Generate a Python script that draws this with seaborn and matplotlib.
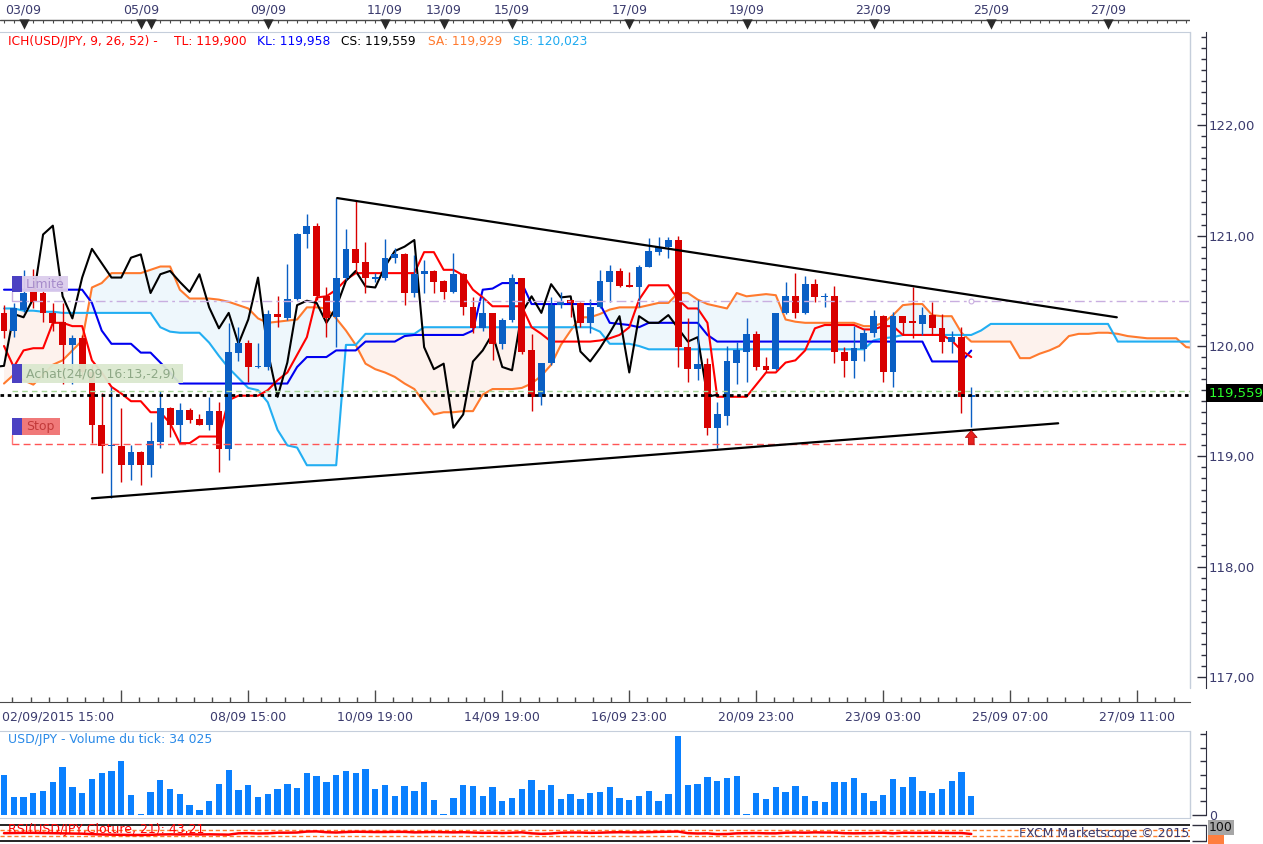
import numpy as np
import matplotlib
matplotlib.use("Agg")
import matplotlib.pyplot as plt
import seaborn as sns
from matplotlib.patches import Rectangle
from matplotlib.lines import Line2D
from matplotlib.ticker import FixedLocator, MultipleLocator, FuncFormatter, NullFormatter

sns.set_style("white")
plt.rcParams["font.family"] = ["DejaVu Sans"]

# ---------------- data (USD/JPY, 4h candles) ----------------
opens = [120.30, 120.14, 120.33, 120.52, 120.48, 120.30, 120.22, 120.01, 120.07, 119.76,
         119.28, 119.09, 119.09, 118.92, 119.04, 118.92, 119.13, 119.44, 119.28, 119.42,
         119.34, 119.28, 119.41, 119.07, 119.94, 120.03, 119.81, 119.81, 120.29, 120.25,
         120.43, 121.01, 121.09, 120.45, 120.26, 120.62, 120.88, 120.76, 120.61, 120.62,
         120.80, 120.83, 120.48, 120.65, 120.68, 120.59, 120.49, 120.65, 120.35, 120.16,
         120.30, 120.02, 120.24, 120.62, 119.96, 119.54, 119.85, 120.37, 120.42, 120.39,
         120.21, 120.35, 120.58, 120.68, 120.55, 120.53, 120.72, 120.85, 120.90, 120.96,
         119.99, 119.79, 119.84, 119.26, 119.37, 119.85, 119.95, 120.11, 119.82, 119.79,
         120.30, 120.45, 120.30, 120.56, 120.44, 120.45, 119.95, 119.86, 119.97, 120.12,
         120.27, 119.76, 120.27, 120.22, 120.20, 120.28, 120.16, 120.04, 120.08, 119.54]
highs = [120.37, 120.39, 120.69, 120.70, 120.51, 120.39, 120.39, 120.10, 120.10, 119.83,
         119.57, 119.63, 119.44, 119.10, 119.05, 119.31, 119.59, 119.45, 119.48, 119.44,
         119.38, 119.54, 119.49, 120.21, 120.17, 120.05, 120.03, 120.33, 120.45, 120.74,
         121.02, 121.20, 121.11, 120.53, 121.34, 121.06, 121.32, 120.94, 120.66, 120.97,
         120.89, 120.84, 120.82, 120.78, 120.69, 120.60, 120.84, 120.66, 120.44, 120.44,
         120.30, 120.25, 120.65, 120.62, 120.11, 119.85, 120.44, 120.49, 120.42, 120.40,
         120.43, 120.69, 120.73, 120.71, 120.67, 120.73, 120.98, 120.99, 120.99, 121.00,
         120.25, 120.42, 119.89, 119.49, 120.00, 120.04, 120.25, 120.14, 119.90, 120.30,
         120.58, 120.66, 120.63, 120.61, 120.48, 120.54, 119.99, 120.18, 120.15, 120.33,
         120.28, 120.31, 120.27, 120.53, 120.35, 120.40, 120.29, 120.14, 120.17, 119.63]
lows = [120.07, 120.08, 120.31, 120.34, 120.22, 120.14, 119.66, 119.66, 119.70, 119.12,
        118.85, 118.62, 118.77, 118.79, 118.74, 118.81, 119.08, 119.18, 119.13, 119.30,
        119.28, 119.24, 118.86, 118.97, 119.86, 119.67, 119.80, 119.78, 120.17, 120.24,
        120.42, 120.89, 120.42, 120.08, 119.99, 120.60, 120.66, 120.48, 120.58, 120.60,
        120.75, 120.37, 120.44, 120.48, 120.48, 120.43, 120.48, 120.28, 120.12, 120.14,
        119.87, 119.97, 120.22, 119.93, 119.41, 119.47, 119.83, 120.34, 120.26, 120.17,
        120.12, 120.34, 120.40, 120.53, 120.53, 120.35, 120.72, 120.82, 120.80, 119.81,
        119.67, 119.69, 119.19, 119.08, 119.28, 119.66, 119.67, 119.78, 119.76, 119.78,
        120.29, 120.25, 120.29, 120.40, 120.35, 119.85, 119.72, 119.71, 119.86, 120.08,
        119.67, 119.63, 120.10, 120.07, 120.10, 120.10, 119.94, 119.94, 119.39, 119.27]
closes = [120.14, 120.34, 120.48, 120.40, 120.30, 120.21, 120.01, 120.07, 119.76, 119.28,
          119.09, 119.10, 118.92, 119.04, 118.92, 119.14, 119.44, 119.28, 119.42, 119.33,
          119.28, 119.41, 119.07, 119.95, 120.03, 119.81, 119.82, 120.29, 120.26, 120.43,
          121.01, 121.09, 120.45, 120.25, 120.62, 120.88, 120.75, 120.62, 120.62, 120.80,
          120.83, 120.48, 120.65, 120.68, 120.58, 120.49, 120.65, 120.35, 120.16, 120.30,
          120.02, 120.24, 120.62, 119.95, 119.54, 119.85, 120.37, 120.41, 120.39, 120.21,
          120.35, 120.59, 120.68, 120.54, 120.53, 120.72, 120.86, 120.90, 120.96, 119.99,
          119.79, 119.84, 119.26, 119.38, 119.86, 119.96, 120.11, 119.81, 119.78, 120.30,
          120.45, 120.30, 120.56, 120.44, 120.45, 119.95, 119.86, 119.98, 120.12, 120.27,
          119.76, 120.27, 120.21, 120.21, 120.28, 120.16, 120.04, 120.08, 119.54, 119.559]

tenkan = [120.00, 119.81, 119.96, 119.98, 119.98, 120.21, 120.21, 120.18, 120.18, 119.87,
          119.76, 119.63, 119.57, 119.50, 119.50, 119.40, 119.40, 119.30, 119.12, 119.12,
          119.18, 119.18, 119.18, 119.51, 119.55, 119.55, 119.55, 119.60, 119.69, 119.76,
          119.92, 120.08, 120.44, 120.45, 120.51, 120.60, 120.66, 120.66, 120.66, 120.66,
          120.66, 120.66, 120.66, 120.85, 120.85, 120.69, 120.69, 120.64, 120.51, 120.44,
          120.36, 120.36, 120.36, 120.36, 120.17, 120.11, 120.04, 120.04, 120.04, 120.04,
          120.04, 120.05, 120.07, 120.10, 120.17, 120.42, 120.55, 120.55, 120.55, 120.42,
          120.34, 120.34, 120.21, 119.54, 119.54, 119.54, 119.54, 119.65, 119.76, 119.76,
          119.85, 119.87, 119.96, 120.16, 120.19, 120.19, 120.19, 120.19, 120.15, 120.15,
          120.18, 120.18, 120.10, 120.10, 120.10, 120.10, 120.10, 120.05, 119.96, 119.900]
kijun = [120.51, 120.51, 120.51, 120.51, 120.51, 120.51, 120.51, 120.51, 120.51, 120.39,
         120.14, 120.02, 120.02, 120.02, 119.94, 119.94, 119.85, 119.76, 119.66, 119.66,
         119.66, 119.66, 119.66, 119.66, 119.66, 119.66, 119.66, 119.66, 119.66, 119.66,
         119.81, 119.90, 119.90, 119.90, 119.96, 119.96, 119.96, 120.04, 120.04, 120.04,
         120.04, 120.09, 120.10, 120.10, 120.10, 120.10, 120.10, 120.10, 120.14, 120.51,
         120.52, 120.57, 120.57, 120.57, 120.38, 120.38, 120.38, 120.38, 120.38, 120.38,
         120.38, 120.38, 120.21, 120.20, 120.19, 120.17, 120.21, 120.21, 120.21, 120.21,
         120.21, 120.21, 120.10, 120.04, 120.04, 120.04, 120.04, 120.04, 120.04, 120.04,
         120.04, 120.04, 120.04, 120.04, 120.04, 120.04, 120.04, 120.04, 120.04, 120.04,
         120.04, 120.04, 120.04, 120.04, 120.04, 119.86, 119.86, 119.86, 119.86, 119.958]
# Senkou spans are drawn 26 bars ahead, so they run past the last candle
senkou_a = [119.66, 119.74, 119.69, 119.65, 119.74, 119.83, 119.87, 119.96, 120.05, 120.53,
            120.57, 120.66, 120.66, 120.66, 120.66, 120.69, 120.72, 120.72, 120.51, 120.43,
            120.43, 120.43, 120.42, 120.40, 120.37, 120.34, 120.25, 120.21, 120.22, 120.23,
            120.24, 120.35, 120.35, 120.34, 120.25, 120.14, 120.01, 119.84, 119.79, 119.76,
            119.72, 119.66, 119.61, 119.49, 119.38, 119.40, 119.40, 119.41, 119.41, 119.56,
            119.61, 119.61, 119.61, 119.62, 119.66, 119.73, 119.83, 120.01, 120.14, 120.26,
            120.26, 120.29, 120.33, 120.35, 120.35, 120.35, 120.37, 120.39, 120.39, 120.48,
            120.48, 120.42, 120.38, 120.36, 120.34, 120.48, 120.45, 120.46, 120.47, 120.46,
            120.24, 120.22, 120.21, 120.21, 120.21, 120.21, 120.21, 120.21, 120.18, 120.18,
            120.21, 120.28, 120.37, 120.38, 120.38, 120.28, 120.27, 120.27, 120.12, 120.04,
            120.04, 120.04, 120.04, 120.04, 119.89, 119.89, 119.93, 119.96, 120.00, 120.09,
            120.11, 120.11, 120.12, 120.12, 120.11, 120.09, 120.08, 120.07, 120.07, 120.07,
            120.07, 119.99, 119.98, 119.95, 119.93, 119.929]
senkou_b = [120.34, 120.34, 120.32, 120.32, 120.31, 120.31, 120.30, 120.30, 120.30, 120.30,
            120.30, 120.30, 120.30, 120.30, 120.30, 120.30, 120.17, 120.13, 120.12, 120.12,
            120.12, 120.03, 119.91, 119.80, 119.71, 119.62, 119.60, 119.49, 119.24, 119.10,
            119.08, 118.92, 118.92, 118.92, 118.92, 120.01, 120.01, 120.11, 120.11, 120.11,
            120.11, 120.11, 120.11, 120.17, 120.17, 120.17, 120.17, 120.17, 120.17, 120.17,
            120.17, 120.17, 120.17, 120.17, 120.17, 120.17, 120.17, 120.17, 120.17, 120.17,
            120.17, 120.13, 120.02, 120.02, 120.02, 120.00, 119.97, 119.97, 119.97, 119.97,
            119.97, 119.97, 119.97, 119.97, 119.97, 119.97, 119.97, 119.97, 119.97, 119.97,
            119.97, 119.97, 119.97, 119.97, 119.97, 119.97, 119.97, 119.97, 119.97, 120.05,
            120.07, 120.08, 120.10, 120.10, 120.10, 120.10, 120.10, 120.10, 120.10, 120.10,
            120.14, 120.20, 120.20, 120.20, 120.20, 120.20, 120.20, 120.20, 120.20, 120.20,
            120.20, 120.20, 120.20, 120.20, 120.04, 120.04, 120.04, 120.04, 120.04, 120.04,
            120.04, 120.04, 120.04, 120.02, 120.02, 120.023]
chikou_shift = 26

volume = [72000, 32400, 32400, 39600, 43200, 59400, 84600, 50400, 39600, 64800,
          73800, 77400, 95400, 36000, 1800, 41400, 63000, 46800, 37800, 18000,
          9000, 25200, 55800, 79200, 45000, 54000, 32400, 37800, 46800, 55800,
          48600, 73800, 70200, 59400, 72000, 77400, 73800, 81000, 46800, 54000,
          34200, 52200, 43200, 59400, 27000, 1800, 30600, 54000, 52200, 34200,
          50400, 25200, 30600, 46800, 63000, 45000, 54000, 28800, 37800, 28800,
          39600, 41400, 50400, 30600, 27000, 34200, 43200, 25200, 37800, 140400,
          54000, 55800, 68400, 61200, 66600, 70200, 1800, 39600, 28800, 50400,
          41400, 52200, 34200, 25200, 23400, 59400, 59400, 66600, 39600, 25200,
          36000, 64800, 50400, 68400, 43200, 39600, 46800, 61200, 75600, 34025]
rsi = [48, 49, 50, 50, 49, 48, 47, 46, 45, 42,
       40, 39, 38, 37, 37, 38, 40, 41, 40, 41,
       40, 41, 40, 39, 47, 48, 46, 47, 51, 51,
       52, 58, 59, 54, 52, 55, 57, 56, 55, 55,
       56, 56, 53, 54, 55, 54, 53, 54, 52, 50,
       51, 49, 51, 53, 47, 44, 46, 51, 52, 52,
       50, 51, 53, 54, 53, 53, 54, 56, 57, 58,
       48, 46, 47, 42, 43, 47, 48, 49, 47, 47,
       51, 52, 51, 53, 52, 52, 48, 47, 48, 49,
       51, 47, 51, 50, 50, 51, 50, 49, 49, 43.21]

top_date_labels = ["03/09", "05/09", "09/09", "11/09", "13/09", "15/09",
                   "17/09", "19/09", "23/09", "25/09", "27/09"]
top_date_pos = [2, 14, 27, 39, 45, 52, 64, 76, 89, 101, 113]
day_marker_pos = [2, 14, 15, 27, 39, 45, 52, 64, 76, 89, 101, 113]
first_time_label = "02/09/2015 15:00"
time_labels = ["08/09 15:00", "10/09 19:00", "14/09 19:00", "16/09 23:00",
               "20/09 23:00", "23/09 03:00", "25/09 07:00", "27/09 11:00"]
time_label_pos = [25, 38, 51, 64, 77, 90, 103, 116]

limit_price = 120.41
entry_price = 119.59
stop_price = 119.11
upper_trend_x = [34.1, 113.9]
upper_trend_y = [121.34, 120.26]
lower_trend_x = [9.0, 107.9]
lower_trend_y = [118.62, 119.30]
order_labels = ["Limite", "Achat(24/09 16:13,-2,9)", "Stop"]

# ---------------- layout helpers ----------------
W, H = 1263, 844
fig = plt.figure(figsize=(W / 100, H / 100), dpi=100)
fig.patch.set_facecolor("white")


def fx(px):
    return px / W


def fy(py):
    return 1 - py / H


def pt(px):
    return px * 72 / 100


def price_at(py):
    return 120 + (346 - py) / 110.4


def fmt3(v):
    return f"{v:.3f}".replace(".", ",")


def frect(x0, y0, x1, y1, **kw):
    fig.add_artist(Rectangle((fx(x0), fy(y1)), fx(x1) - fx(x0), fy(y0) - fy(y1),
                             transform=fig.transFigure, lw=0, **kw))


def sline(ax, x, y, color, lw, z, **kw):
    sns.lineplot(x=np.asarray(x, float), y=np.asarray(y, float), ax=ax, color=color,
                 linewidth=lw, sort=False, estimator=None, legend=False, zorder=z, **kw)


BAR0_PX, STEP_PX, PLOT_R = 4.0, 9.77, 1190
XLIM = ((0 - BAR0_PX) / STEP_PX, (PLOT_R - BAR0_PX) / STEP_PX)
BORDER = "#c5cedb"
AXTXT = "#3b3b6e"
DARK = "#2f2f3f"
BLUE_C = "#0a5fc4"
RED_C = "#d80000"

idx = np.arange(len(closes))
o = np.array(opens); h = np.array(highs); l = np.array(lows); c = np.array(closes)

# ---------------- main price panel ----------------
ax = fig.add_axes([0, fy(688), fx(PLOT_R), (688 - 32) / H])
ax.set_facecolor("white")

xs = np.arange(len(senkou_a))
sa = np.array(senkou_a); sb = np.array(senkou_b)
ax.fill_between(xs, sa, sb, where=sa >= sb, interpolate=True, color="#eef7fc", lw=0, zorder=1)
ax.fill_between(xs, sa, sb, where=sa < sb, interpolate=True, color="#fdf2ed", lw=0, zorder=1)

sline(ax, xs, senkou_a, "#ff7a2e", 1.5, 2)
sline(ax, xs, senkou_b, "#22aef2", 1.5, 2)
sline(ax, idx, kijun, "#0000f0", 1.5, 3)
sline(ax, idx, tenkan, "#ff0000", 1.5, 3)
sline(ax, idx - chikou_shift, closes, "#000000", 1.5, 3)

cols = np.where(c >= o, BLUE_C, RED_C)
ax.vlines(idx, l, h, colors=cols, lw=1.0, zorder=4)
ax.bar(idx, np.maximum(np.abs(c - o), 0.012), bottom=np.minimum(o, c), width=0.7,
       color=cols, linewidth=0, zorder=5)

# order levels
ax.axhline(limit_price, xmin=12 / PLOT_R, color="#c9aee0", lw=1, ls=(0, (7, 3, 2, 3)), zorder=5)
ax.axhline(entry_price, xmin=12 / PLOT_R, color="#a9d79a", lw=1, ls=(0, (4, 3)), zorder=5)
ax.axhline(stop_price, xmin=12 / PLOT_R, color="#ff5555", lw=1, ls=(0, (5, 3)), zorder=5)
ax.axhline(closes[-1], color="black", lw=2.0, ls=(0, (1.3, 1.3)), zorder=6)
ax.plot([idx[-1]], [limit_price], marker="o", ms=3.5, mfc="white", mec="#c9aee0", mew=0.8, zorder=6)

# trend lines
sline(ax, upper_trend_x, upper_trend_y, "black", 1.6, 7)
sline(ax, lower_trend_x, lower_trend_y, "black", 1.6, 7)

# entry arrow
ax.annotate("", xy=(idx[-1], 119.26), xytext=(idx[-1], 119.085),
            arrowprops=dict(arrowstyle="simple,head_length=0.5,head_width=0.85,tail_width=0.42",
                            fc="#e8201e", ec="#a80000", lw=0.5), zorder=8)

ax.set_xlim(*XLIM)
ax.set_ylim(price_at(688), price_at(32))
ax.set_xlabel(""); ax.set_ylabel("")
ax.set_xticks([])
for s in ("left", "bottom"):
    ax.spines[s].set_visible(False)
ax.spines["top"].set_color(BORDER)
ax.spines["right"].set_position(("outward", pt(16)))
ax.spines["right"].set_color(DARK)
ax.plot([1, 1], [0, 1], transform=ax.transAxes, color=BORDER, lw=1, clip_on=False)
ax.yaxis.tick_right()
ax.yaxis.set_major_locator(MultipleLocator(1))
ax.yaxis.set_minor_locator(MultipleLocator(0.1))
ax.yaxis.set_major_formatter(FuncFormatter(lambda v, p: f"{v:.2f}".replace(".", ",")))
ax.tick_params(axis="y", which="major", direction="in", length=pt(9), width=1, color=DARK,
               labelcolor=AXTXT, labelsize=9.5, pad=pt(3))
ax.tick_params(axis="y", which="minor", direction="in", length=pt(5), width=1, color=DARK)

# ---------------- bottom time ruler ----------------
axr = fig.add_axes([0, fy(702), fx(PLOT_R), 14 / H])
axr.set_facecolor("none")
axr.set_xlim(*XLIM); axr.set_ylim(0, 14)
axr.set_yticks([])
for s in ("left", "right", "top"):
    axr.spines[s].set_visible(False)
axr.spines["bottom"].set_color("#4a4a4a")
major_ticks = [time_label_pos[0] - 13] + time_label_pos
minor_ticks = [major_ticks[0] + k * 13 / 7 for k in range(-7, 64) if k % 7 != 0]
axr.vlines(major_ticks, 0, 12, color="#4a4a4a", lw=1, clip_on=False)
axr.vlines(minor_ticks, 0, 5, color="#4a4a4a", lw=1)
axr.xaxis.set_major_locator(FixedLocator(major_ticks))
axr.set_xticklabels([""] + time_labels)
axr.tick_params(axis="x", which="major", bottom=True, direction="in", length=0,
                labelsize=9, labelcolor=AXTXT, pad=pt(9))
fig.text(fx(2), fy(717), first_time_label, ha="left", va="center", fontsize=9, color=AXTXT)

# ---------------- top date ruler ----------------
axt = fig.add_axes([0, fy(32), fx(PLOT_R), 32 / H])
axt.set_xlim(*XLIM); axt.set_ylim(32, 0)
axt.axis("off")
axt.axhline(19.5, color="#4a4a4a", lw=1)
axt.vlines(np.arange(0, int(XLIM[1]) + 1), 19.5, 23.0, color="#4a4a4a", lw=0.8)
axt.scatter(day_marker_pos, [23.5] * len(day_marker_pos), marker="v", s=55, color="#2a2a2a",
            linewidths=0, zorder=3)
for p, lab in zip(top_date_pos, top_date_labels):
    axt.text(p, 10, lab, ha="center", va="center", fontsize=9, color=AXTXT)

# ---------------- header legend ----------------
header = [("ICH(USD/JPY, 9, 26, 52) -", "#ff0000", 8),
          (f"TL: {fmt3(tenkan[-1])}", "#ff0000", 174),
          (f"KL: {fmt3(kijun[-1])}", "#0000ff", 257),
          (f"CS: {fmt3(closes[-1])}", "#000000", 341),
          (f"SA: {fmt3(senkou_a[-1])}", "#ff7a2e", 428),
          (f"SB: {fmt3(senkou_b[-1])}", "#1eaaf0", 513)]
for txt, col, xp in header:
    fig.text(fx(xp), fy(41), txt, color=col, fontsize=8.8, va="center", ha="left")

# ---------------- order labels ----------------
label_style = [((276, 292, 68), "#dccdec", "#a68bcb"),
               ((364, 383, 183), "#dbe8cf", "#8ea886"),
               ((418, 435, 60), "#f07272", "#c23a3a")]
for lab, ((y0, y1, x1), bg, tc) in zip(order_labels, label_style):
    frect(12, y0, 22, y1, color="#4b41c2", zorder=5)
    frect(22, y0, x1, y1, color=bg, alpha=0.95, zorder=5)
    fig.text(fx(26), fy((y0 + y1) / 2), lab, color=tc, fontsize=9, va="center", ha="left", zorder=6)
fig.add_artist(Line2D([fx(12), fx(12)], [fy(292), fy(301)], color="#c9aee0", lw=1))
fig.add_artist(Line2D([fx(12), fx(12)], [fy(435), fy(444)], color="#ff7777", lw=1))

# current price box
frect(1206, 384, 1263, 402, color="black", zorder=5)
fig.text(fx(1209), fy(393.5), fmt3(closes[-1]), color="#2bff2b", fontsize=9.5, va="center",
         ha="left", zorder=6)

# ---------------- volume panel ----------------
axv = fig.add_axes([0, fy(818), fx(PLOT_R), 87 / H])
sns.barplot(x=idx, y=volume, native_scale=True, color="#0a80ff", saturation=1, width=0.65,
            errorbar=None, linewidth=0, ax=axv)
axv.set_xlim(*XLIM)
axv.set_ylim(-5400, 149400)
axv.set_xlabel(""); axv.set_ylabel("")
axv.set_xticks([])
for s in ("left", "top", "bottom"):
    axv.spines[s].set_color(BORDER)
axv.spines["left"].set_visible(False)
axv.spines["right"].set_position(("outward", pt(16)))
axv.spines["right"].set_color(DARK)
axv.spines["right"].set_bounds(0, 149400)
axv.plot([1, 1], [0, 1], transform=axv.transAxes, color=BORDER, lw=1, clip_on=False)
axv.yaxis.tick_right()
axv.yaxis.set_major_locator(FixedLocator([0]))
axv.yaxis.set_minor_locator(FixedLocator([24000, 48000, 72000, 96000, 120000, 144000]))
axv.yaxis.set_major_formatter(FuncFormatter(lambda v, p: "0"))
axv.yaxis.set_minor_formatter(NullFormatter())
axv.tick_params(axis="y", which="major", direction="in", length=pt(14), width=1, color=DARK,
                labelcolor=AXTXT, labelsize=9, pad=pt(3))
axv.tick_params(axis="y", which="minor", direction="in", length=pt(6), width=1, color=DARK)
fig.text(fx(8), fy(740), "USD/JPY - Volume du tick: 34 025", color="#2a8ae8", fontsize=8.9,
         va="center", ha="left")

# ---------------- RSI panel ----------------
axi = fig.add_axes([0, 0, fx(PLOT_R), 25 / H])
axi.set_facecolor("none")
axi.axhline(100, color="black", lw=1.2)
axi.axhline(0, color="black", lw=1.2)
axi.axhline(70, color="#ff7f2a", lw=1, ls=(0, (3, 2)))
axi.axhline(30, color="#ff7f2a", lw=1, ls=(0, (3, 2)))
sline(axi, idx, rsi, "#ff0000", 1.8, 3)
axi.set_xlim(*XLIM)
axi.set_ylim(-18.4, 135)
axi.set_xlabel(""); axi.set_ylabel("")
axi.set_xticks([])
for s in ("left", "top", "bottom"):
    axi.spines[s].set_visible(False)
axi.spines["right"].set_position(("outward", pt(16)))
axi.spines["right"].set_color(DARK)
axi.spines["right"].set_bounds(0, 100)
axi.yaxis.tick_right()
axi.yaxis.set_major_locator(FixedLocator([0, 100]))
axi.yaxis.set_major_formatter(NullFormatter())
axi.tick_params(axis="y", which="major", direction="in", length=pt(14), width=1, color=DARK)
fig.text(fx(8), fy(830), f"RSI(USD/JPY,Cloture, 21): {rsi[-1]:.2f}".replace(".", ","),
         color="#ff0000", fontsize=9, va="center", ha="left")
fig.text(fx(1189), fy(834), "FXCM Marketscope © 2015", color=AXTXT, fontsize=9,
         va="center", ha="right")
frect(1208, 834, 1224, 844, color="#ff7f3f", zorder=5)
fig.text(fx(1209), fy(827.5), "100", color="#111111", fontsize=9, va="center", ha="left",
         bbox=dict(boxstyle="square,pad=0.08", fc="#a6a6a6", ec="none"), zorder=6)

fig.savefig("out.png", dpi=100)
